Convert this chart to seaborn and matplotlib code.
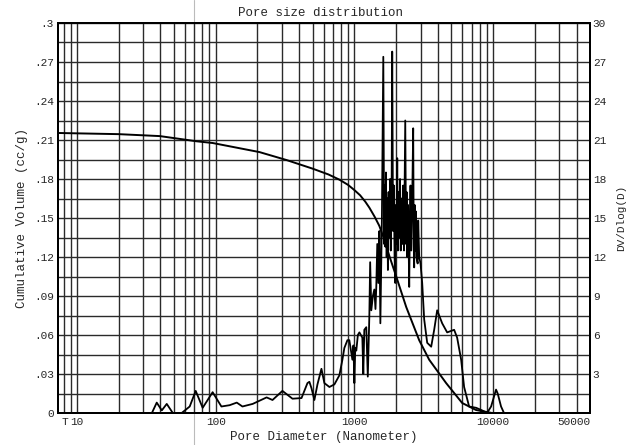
import matplotlib
matplotlib.use("Agg")
import matplotlib.pyplot as plt
import numpy as np
import pandas as pd
import seaborn as sns

# Cumulative intrusion curve (left axis)
cum_diam = [7.3, 20, 39.6, 73, 95, 207, 324, 499, 650, 780,
            900, 1000, 1100, 1200, 1282, 1400, 1513, 1650, 1785, 2004,
            2366, 2934, 3463, 4590, 5990, 7540, 9835]
cum_vol = [0.2154, 0.2145, 0.213, 0.209, 0.2077, 0.2007, 0.1946, 0.188, 0.1835, 0.1795,
           0.1755, 0.1715, 0.1675, 0.1625, 0.158, 0.151, 0.144, 0.133, 0.121, 0.105,
           0.0815, 0.056, 0.041, 0.023, 0.0077, 0.0023, 0.0]

# Differential curve DV/Dlog(D) (right axis)
dv_diam = [7.3, 34.7, 37.6, 40.9, 44.4, 49.1, 56.9, 65, 71.8, 80.6,
           87.5, 95.1, 103, 110, 126, 142, 156, 185, 233, 257,
           303, 358, 416, 459, 474, 491, 515, 542, 579, 608,
           661, 718, 780, 820, 847, 891, 920, 968, 985, 1000,
           1015, 1033, 1060, 1087, 1142, 1160, 1180, 1219, 1250, 1282,
           1300, 1325, 1360, 1393, 1420, 1439, 1463, 1490, 1515, 1540,
           1580, 1617, 1640, 1655, 1671, 1690, 1710, 1727, 1745, 1765,
           1785, 1810, 1830, 1855, 1875, 1900, 1925, 1950, 1972, 1990,
           2010, 2038, 2060, 2085, 2107, 2135, 2160, 2190, 2214, 2250,
           2280, 2328, 2360, 2380, 2405, 2440, 2486, 2510, 2540, 2570,
           2610, 2656, 2680, 2700, 2725, 2746, 2780, 2800, 2860, 2886,
           2934, 3000, 3084, 3188, 3351, 3581, 3763, 3955, 4297, 4668,
           5240, 5508, 5888, 6185, 6720, 7551, 8339, 9057, 9680, 10510,
           10800, 11420, 11990]
dv_vals = [0, 0, 0.8, 0.2, 0.7, 0, 0, 0.5, 1.7, 0.4,
           1.0, 1.6, 1.0, 0.5, 0.6, 0.8, 0.5, 0.7, 1.2, 1.0,
           1.7, 1.1, 1.15, 2.3, 2.4, 1.9, 1.0, 2.2, 3.4, 2.3,
           2.0, 2.2, 2.9, 4.1, 5.0, 5.6, 5.6, 4.1, 5.2, 2.3,
           5.0, 4.8, 6.0, 6.2, 5.8, 3.0, 6.4, 6.6, 2.8, 7.4,
           11.6, 7.9, 9.0, 9.5, 8.0, 9.7, 13.0, 10.0, 14.0, 6.9,
           15.0, 27.4, 13.0, 17.5, 12.8, 18.5, 12.0, 16.5, 11.0, 17.0,
           13.5, 18.0, 12.5, 16.0, 27.8, 14.0, 17.5, 12.0, 10.0, 16.0,
           13.0, 19.6, 12.5, 17.0, 13.5, 18.0, 12.5, 16.5, 13.0, 17.5,
           12.5, 22.5, 13.0, 17.0, 12.0, 16.0, 9.7, 14.0, 17.5, 12.5,
           16.0, 21.9, 13.0, 11.2, 16.0, 12.5, 15.5, 12.0, 11.5, 14.8,
           12.0, 11.5, 10.0, 7.2, 5.4, 5.1, 6.4, 7.9, 6.9, 6.2,
           6.4, 5.8, 4.1, 2.0, 0.5, 0.4, 0.2, 0.0, 0.5, 1.8,
           1.5, 0.5, 0.0]

x_major = [10, 100, 1000, 10000, 50000]
x_labels = ["10", "100", "1000", "10000", "50000"]
left_ticks = [0, 0.03, 0.06, 0.09, 0.12, 0.15, 0.18, 0.21, 0.24, 0.27, 0.3]
left_labels = ["0", ".03", ".06", ".09", ".12", ".15", ".18", ".21", ".24", ".27", ".3"]
right_ticks = [3, 6, 9, 12, 15, 18, 21, 24, 27, 30]
right_labels = ["3", "6", "9", "12", "15", "18", "21", "24", "27", "30"]

sns.set_style("white")
plt.rcParams['font.family'] = ['Liberation Mono', 'DejaVu Sans Mono']

fig = plt.figure(figsize=(6.37, 4.45), dpi=100)
ax = fig.add_axes([58 / 637, 32 / 445, 532 / 637, 390 / 445])
ax.set_xscale('log')
ax.set_xlim(7.3, 50000)
ax.set_ylim(0, 0.3)

# log grid: majors + 2..9 minors
minor = [k * 10.0 ** n for n in range(0, 5) for k in range(2, 10)]
minor = [m for m in minor if 7.3 < m < 50000 and m not in x_major]
ax.set_xticks(x_major)
ax.set_xticklabels(x_labels)
ax.set_xticks(minor, minor=True)
ax.xaxis.set_minor_formatter(matplotlib.ticker.NullFormatter())
lbls = ax.get_xticklabels()
lbls[-1].set_horizontalalignment('right')

ax.set_yticks(left_ticks)
ax.set_yticklabels(left_labels)
ax.set_yticks(np.arange(0.015, 0.3, 0.03), minor=True)

ax.grid(which='both', axis='both', color='#2a2a2a', lw=1.0)
ax.tick_params(which='both', length=0, labelsize=8, pad=3)
ax.set_axisbelow(True)

# scan artifact: the 70 nm line runs past the frame
ax.axvline(70, ymin=-0.082, ymax=1.06, clip_on=False, color='#bbbbbb', lw=0.8, zorder=0)

sns.lineplot(x=cum_diam, y=cum_vol, ax=ax, color='black', lw=1.4,
             sort=False, estimator=None)

ax2 = ax.twinx()
ax2.set_ylim(0, 30)
ax2.set_yticks(right_ticks)
ax2.set_yticklabels(right_labels)
ax2.tick_params(length=0, labelsize=8, pad=2)
sns.lineplot(x=dv_diam, y=dv_vals, ax=ax2, color='black', lw=1.3,
             sort=False, estimator=None)
ax2.set_xlim(7.3, 50000)

for a in (ax, ax2):
    for s in a.spines.values():
        s.set_color('black')
        s.set_linewidth(1.4)

ax.set_xlabel("Pore Diameter (Nanometer)", fontsize=9, labelpad=3)
ax.set_ylabel("Cumulative Volume (cc/g)", fontsize=9, labelpad=4)
ax2.set_ylabel("DV/Dlog(D)", fontsize=8, rotation=90, labelpad=7)
ax.text(0.006, -0.023, "T", transform=ax.transAxes, fontsize=8,
        ha='left', va='center')
fig.text(320 / 637, 1 - 13 / 445, "Pore size distribution", fontsize=9,
         ha='center', va='center')

fig.savefig("out.png", dpi=100)
